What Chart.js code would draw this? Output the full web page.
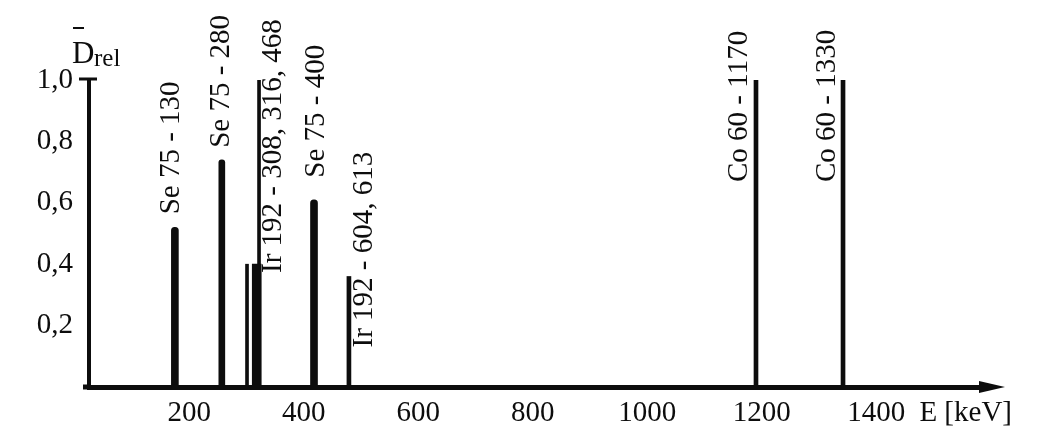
<!DOCTYPE html>
<html>
<head>
<meta charset="utf-8">
<script src="https://cdn.jsdelivr.net/npm/chart.js@4.4.1/dist/chart.umd.min.js"></script>
<style>
  html, body { margin: 0; padding: 0; background: #fff; }
  #wrap { width: 1040px; height: 436px; }
</style>
</head>
<body>
<div id="wrap"><canvas id="spectrum"></canvas></div>
<script>
// gamma lines: energy as placed on the drawn axis, relative dose
const lineNames = ["Se 75 - 130", "Se 75 - 280", "", "", "Ir 192 - 308, 316, 468", "Se 75 - 400", "Ir 192 - 604, 613", "Co 60 - 1170", "Co 60 - 1330"];
const lineEnergies = [175, 257, 301, 318, 322, 418, 479, 1190, 1342];
const lineDoses = [0.52, 0.74, 0.40, 0.40, 1.0, 0.61, 0.36, 1.0, 1.0];
const xTicks = [200, 400, 600, 800, 1000, 1200, 1400];
const yTicks = [0.2, 0.4, 0.6, 0.8, 1.0];

// looks of each line and where its label sits (dx, dy from the top of the line)
const lineWidths = [7, 6, 3, 9, 3, 7, 4, 4, 4];
const lineRound = [4, 4, 0, 0, 0, 4, 0, 0, 0];
const labelOffsets = [[-3, -13], [0, -12], null, null, [14, 193], [2, -22], [15, 71], [-17, 102], [-16, 102]];

const ink = "#0d0d0d";
const serif = "'Liberation Serif', 'DejaVu Serif', serif";

const decorations = {
    id: "decorations",
    afterDatasetsDraw(chart) {
        const ctx = chart.ctx;
        const area = chart.chartArea;
        ctx.save();
        ctx.fillStyle = ink;
        ctx.strokeStyle = ink;

        // rotated line labels
        chart.data.datasets.forEach((ds, i) => {
            const off = labelOffsets[i];
            if(!off || !lineNames[i]) return;
            const bar = chart.getDatasetMeta(i).data[0];
            ctx.save();
            ctx.translate(bar.x + off[0], bar.y + off[1]);
            ctx.rotate(-Math.PI / 2);
            ctx.font = "29px " + serif;
            ctx.textAlign = "left";
            ctx.textBaseline = "middle";
            ctx.fillText(lineNames[i], 0, 0);
            ctx.restore();
        });

        // x axis stub left of y axis + arrow head
        const y0 = area.bottom;
        ctx.lineWidth = 5;
        ctx.beginPath();
        ctx.moveTo(area.left - 6, y0);
        ctx.lineTo(area.left, y0);
        ctx.stroke();
        ctx.beginPath();
        ctx.moveTo(area.right + 20, y0);
        ctx.lineTo(area.right - 6, y0 - 6);
        ctx.lineTo(area.right - 6, y0 + 6);
        ctx.closePath();
        ctx.fill();

        // cap on top of y axis
        ctx.lineWidth = 3;
        ctx.beginPath();
        ctx.moveTo(area.left - 10, area.top - 1);
        ctx.lineTo(area.left + 8, area.top - 1);
        ctx.stroke();

        // axis titles
        ctx.textBaseline = "alphabetic";
        ctx.textAlign = "left";
        ctx.font = "31px " + serif;
        ctx.fillText("D", 72, 63);
        ctx.font = "25px " + serif;
        ctx.fillText("rel", 94, 66);
        ctx.lineWidth = 2;
        ctx.beginPath();
        ctx.moveTo(73, 28);
        ctx.lineTo(84, 28);
        ctx.stroke();

        ctx.font = "29px " + serif;
        ctx.textAlign = "right";
        ctx.textBaseline = "middle";
        ctx.fillText("E [keV]", 1012, y0 + 26);
        ctx.restore();
    }
};

new Chart(document.getElementById("spectrum"), {
    type: "bar",
    data: {
        datasets: lineEnergies.map((e, i) => ({
            data: [{x: e, y: lineDoses[i]}],
            backgroundColor: ink,
            barThickness: lineWidths[i],
            borderRadius: {topLeft: lineRound[i], topRight: lineRound[i]},
            borderSkipped: "start",
            grouped: false
        }))
    },
    options: {
        responsive: true,
        maintainAspectRatio: false,
        animation: false,
        layout: {padding: {top: 80, right: 55, bottom: 0, left: 0}},
        plugins: {legend: {display: false}, tooltip: {enabled: false}},
        scales: {
            x: {
                type: "linear",
                min: 25,
                max: 1590,
                offset: false,
                afterFit: s => { s.height = 49; },
                afterBuildTicks: s => { s.ticks = xTicks.map(v => ({value: v})); },
                grid: {display: false, drawTicks: false, offset: false},
                border: {display: true, color: ink, width: 5},
                ticks: {
                    color: ink,
                    font: {family: serif, size: 29},
                    padding: 9,
                    maxRotation: 0,
                    autoSkip: false,
                    callback: v => String(v)
                }
            },
            y: {
                min: 0,
                max: 1,
                afterFit: s => { s.width = 89; },
                afterBuildTicks: s => { s.ticks = yTicks.map(v => ({value: v})); },
                grid: {display: false, drawTicks: false},
                border: {display: true, color: ink, width: 4},
                ticks: {
                    color: ink,
                    font: {family: serif, size: 29},
                    padding: 16,
                    callback: v => v.toFixed(1).replace(".", ",")
                }
            }
        }
    },
    plugins: [decorations]
});
</script>
</body>
</html>
